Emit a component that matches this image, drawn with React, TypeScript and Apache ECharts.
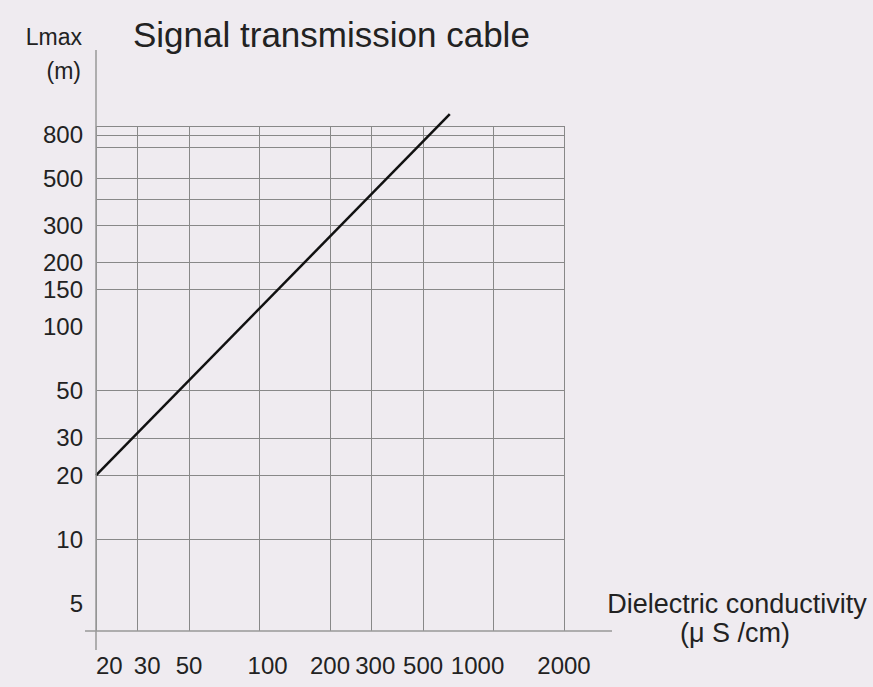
import React, { useEffect, useRef } from "react";
import * as echarts from "echarts";

// ---- data ----
const xTickValues = [20, 30, 50, 100, 200, 300, 500, 1000, 2000];
const yLabelValues = [5, 10, 20, 30, 50, 100, 150, 200, 300, 500, 800];
const yGridValues = [10, 20, 30, 50, 150, 200, 300, 400, 500, 700, 800, 880];
const cableLine: [number, number][] = [
  [20, 20],
  [650, 1000],
];

const X_MIN = 20;
const X_MAX = 2000;
const Y_MIN = 3.7;
const Y_MAX = 880;

// ---- layout / style ----
const W = 873;
const H = 687;
const GRID = { left: 96, top: 126, right: W - 564, bottom: H - 631 };
const FONT = '"Liberation Sans", Arial, Helvetica, sans-serif';
const TEXT = "#222222";
const BG = "#efebf0";
const GRIDLINE = "#888888";
const AXIS = "#999999";
// small horizontal nudges (px) of some x labels, as in the original drawing
const X_LABEL_NUDGE: Record<string, number> = { "30": 10, "100": 8, "300": 4, "1000": -16 };

const xRich: Record<string, any> = {};
Object.keys(X_LABEL_NUDGE).forEach((k) => {
  const d = X_LABEL_NUDGE[k];
  xRich["n" + k] = {
    fontSize: 24,
    fontFamily: FONT,
    color: TEXT,
    padding: d > 0 ? [0, 0, 0, 2 * d] : [0, -2 * d, 0, 0],
  };
});

export default function App() {
  const ref = useRef<HTMLDivElement>(null);

  useEffect(() => {
    const el = ref.current;
    if (!el) return;
    const chart = echarts.init(el, null, { renderer: "svg" });
    const axisY = H - GRID.bottom;
    const axisX = GRID.left;
    const option: any = {
      animation: false,
      backgroundColor: BG,
      grid: { ...GRID, containLabel: false },
      xAxis: {
        type: "log",
        min: X_MIN,
        max: X_MAX,
        axisLine: { show: false },
        axisTick: { show: false, customValues: xTickValues },
        axisLabel: {
          customValues: xTickValues,
          formatter: (v: number) => {
            const s = String(Math.round(v));
            return X_LABEL_NUDGE[s] !== undefined ? `{n${s}|${s}}` : s;
          },
          rich: xRich,
          fontSize: 24,
          fontFamily: FONT,
          color: TEXT,
          margin: 22,
          alignMinLabel: "left",
        },
        splitLine: { show: true, lineStyle: { color: GRIDLINE, width: 1 } },
        minorSplitLine: { show: false },
      },
      yAxis: {
        type: "log",
        min: Y_MIN,
        max: Y_MAX,
        axisLine: { show: false },
        axisTick: { show: false, customValues: yGridValues },
        axisLabel: {
          customValues: yLabelValues,
          formatter: (v: number) => String(Math.round(v)),
          fontSize: 24,
          fontFamily: FONT,
          color: TEXT,
          margin: 13,
        },
        splitLine: { show: true, lineStyle: { color: GRIDLINE, width: 1 } },
        minorSplitLine: { show: false },
      },
      series: [
        {
          type: "line",
          data: cableLine,
          symbol: "none",
          clip: false,
          lineStyle: { color: "#111111", width: 2.5 },
        },
      ],
      graphic: [
        {
          type: "line",
          shape: { x1: 85, y1: axisY, x2: 612, y2: axisY },
          style: { stroke: AXIS, lineWidth: 1.5 },
          z: 10,
        },
        {
          type: "line",
          shape: { x1: axisX, y1: 50, x2: axisX, y2: 650 },
          style: { stroke: AXIS, lineWidth: 1.5 },
          z: 10,
        },
        {
          type: "text",
          x: 133,
          y: 34,
          style: {
            text: "Signal transmission cable",
            fontSize: 35,
            fontFamily: FONT,
            fill: TEXT,
            align: "left",
            verticalAlign: "middle",
          },
        },
        {
          type: "text",
          x: 82,
          y: 37,
          style: {
            text: "Lmax",
            fontSize: 23,
            fontFamily: FONT,
            fill: TEXT,
            align: "right",
            verticalAlign: "middle",
          },
        },
        {
          type: "text",
          x: 81,
          y: 71,
          style: {
            text: "(m)",
            fontSize: 23,
            fontFamily: FONT,
            fill: TEXT,
            align: "right",
            verticalAlign: "middle",
          },
        },
        {
          type: "text",
          x: 737,
          y: 604,
          style: {
            text: "Dielectric conductivity",
            fontSize: 27,
            fontFamily: FONT,
            fill: TEXT,
            align: "center",
            verticalAlign: "middle",
          },
        },
        {
          type: "text",
          x: 735,
          y: 633,
          style: {
            text: "(\u03bc S /cm)",
            fontSize: 27,
            fontFamily: FONT,
            fill: TEXT,
            align: "center",
            verticalAlign: "middle",
          },
        },
      ],
    };
    chart.setOption(option);
    return () => chart.dispose();
  }, []);

  return (
    <div
      ref={ref}
      style={{ position: "fixed", left: 0, top: 0, width: W, height: H, background: BG }}
    />
  );
}
